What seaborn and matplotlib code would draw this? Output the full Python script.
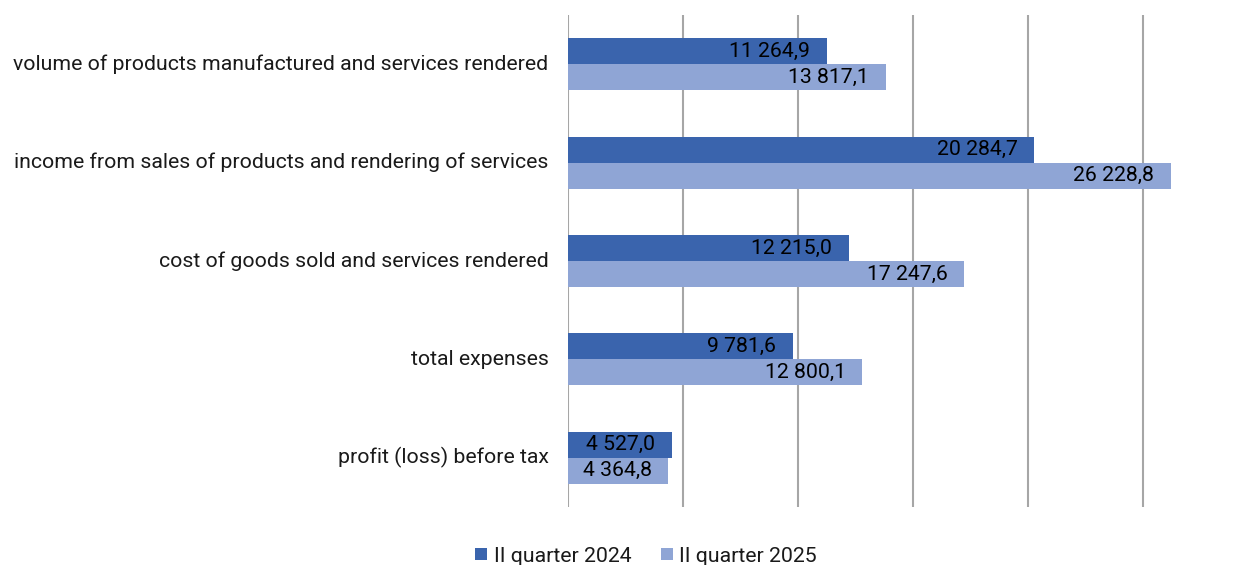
import matplotlib
matplotlib.use("Agg")
import matplotlib.pyplot as plt
import seaborn as sns
import pandas as pd

categories = [
    "volume of products manufactured and services rendered",
    "income from sales of products and rendering of services",
    "cost of goods sold and services rendered",
    "total expenses",
    "profit (loss) before tax",
]
series_names = ["II quarter 2024", "II quarter 2025"]
values_2024 = [11264.9, 20284.7, 12215.0, 9781.6, 4527.0]
values_2025 = [13817.1, 26228.8, 17247.6, 12800.1, 4364.8]

df = pd.DataFrame({
    "category": categories * 2,
    "series": [series_names[0]] * len(categories) + [series_names[1]] * len(categories),
    "value": values_2024 + values_2025,
})

sns.set_theme(style="white")
plt.rcParams["font.family"] = ["Roboto", "DejaVu Sans"]

FS = 15.3

fig = plt.figure(figsize=(12.46, 5.65), dpi=100)
ax = fig.add_axes([568 / 1246, 1 - 507 / 565, (1200 - 568) / 1246, (507 - 15) / 565])

palette = {series_names[0]: "#3A64AD", series_names[1]: "#8FA5D5"}
sns.barplot(data=df, y="category", x="value", hue="series", orient="h",
            palette=palette, width=0.53, saturation=1, linewidth=0,
            ax=ax, legend=True)

ax.set_xlim(0, 27500)
ax.set_ylim(4.5, -0.5)
ax.set_xticks([0, 5000, 10000, 15000, 20000, 25000])
ax.set_xticklabels([])
ax.tick_params(axis="x", length=0)
ax.tick_params(axis="y", length=0, pad=14, labelsize=FS)
for lbl in ax.get_yticklabels():
    lbl.set_color("#1a1a1a")
    lbl.set_va("center")
ax.grid(axis="x", color="#A6A6A6", linewidth=1.5)
ax.set_axisbelow(True)
for s in ax.spines.values():
    s.set_visible(False)
ax.set_xlabel("")
ax.set_ylabel("")

def fmt(v):
    s = f"{v:,.1f}"
    return s.replace(",", " ").replace(".", ",")

for cont in ax.containers:
    texts = ax.bar_label(cont, labels=[fmt(b.get_width()) for b in cont],
                         label_type="edge", padding=-12, fontsize=FS, color="#000000")
    for t in texts:
        t.set_ha("right")

leg = ax.legend(loc="center", bbox_to_anchor=(646 / 1246, 1 - 556 / 565),
                bbox_transform=fig.transFigure, ncol=2, frameon=False,
                fontsize=FS, handlelength=0.55, handleheight=0.55,
                handletextpad=0.3, columnspacing=1.4)
for t in leg.get_texts():
    t.set_color("#1a1a1a")

fig.savefig("out.png", dpi=100)
